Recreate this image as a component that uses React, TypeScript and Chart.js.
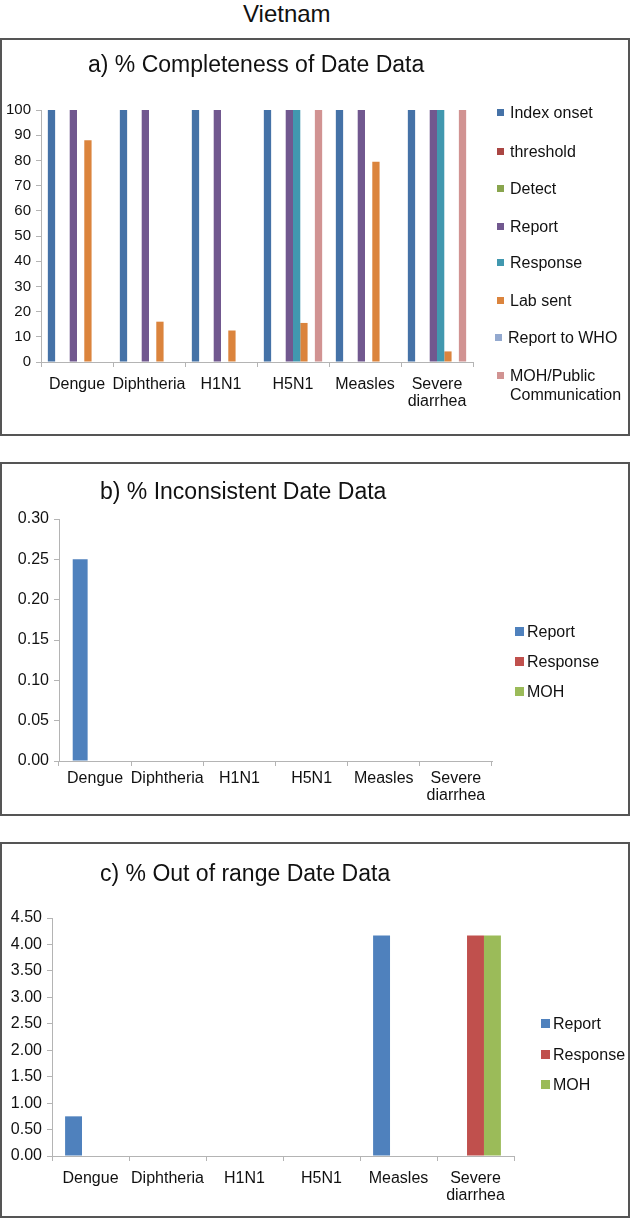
import React, { useEffect, useRef } from "react";
import { Chart, registerables } from "chart.js";

Chart.register(...registerables);

const FONT = '"Liberation Sans", Arial, Helvetica, sans-serif';
const AXIS = "#b4b4b4";
const TEXT = "#111111";

// Categories shared by all three panels
const categories: (string | string[])[] = ["Dengue", "Diphtheria", "H1N1", "H5N1", "Measles", ["Severe", "diarrhea"]];

// Panel a) % Completeness of Date Data
const seriesA = ["Index onset", "threshold", "Detect", "Report", "Response", "Lab sent", "Report to WHO", "MOH/Public\nCommunication"];
const colorsA = ["#4572a7", "#aa4643", "#89a54e", "#71588f", "#4198af", "#db843d", "#93a9cf", "#d19392"];
const indexOnset = [100, 100, 100, 100, 100, 100];
const threshold = [0, 0, 0, 0, 0, 0];
const detect = [0, 0, 0, 0, 0, 0];
const reportA = [100, 100, 100, 100, 100, 100];
const responseA = [0, 0, 0, 100, 0, 100];
const labSent = [88, 16, 12.5, 15.5, 79.5, 4.2];
const reportToWHO = [0, 0, 0, 0, 0, 0];
const mohPublic = [0, 0, 0, 100, 0, 100];
const yMaxA = 100;
const yStepA = 10;

// Panels b) and c) share the series names / colours
const seriesBC = ["Report", "Response", "MOH"];
const colorsBC = ["#4f81bd", "#c0504d", "#9bbb59"];

// Panel b) % Inconsistent Date Data
const reportB = [0.25, 0, 0, 0, 0, 0];
const responseB = [0, 0, 0, 0, 0, 0];
const mohB = [0, 0, 0, 0, 0, 0];
const yMaxB = 0.3;
const yStepB = 0.05;

// Panel c) % Out of range Date Data
const reportC = [0.75, 0, 0, 0, 4.17, 0];
const responseC = [0, 0, 0, 0, 0, 4.17];
const mohC = [0, 0, 0, 0, 0, 4.17];
const yMaxC = 4.5;
const yStepC = 0.5;

type Box = { top: number; bottom: number };
type Plot = { left: number; right: number; top: number; bottom: number };
type LegendSpec = { x: number; textX: number; sq: number; rows: number[]; xs?: number[] };

interface PanelProps {
  box: Box;
  plot: Plot;
  title: string;
  titleLeft: number;
  titleTop: number;
  names: string[];
  colors: string[];
  series: number[][];
  yMax: number;
  yStep: number;
  decimals: number;
  catPct: number;
  xPad: number;
  tickSize: number;
  legend: LegendSpec;
}

function Panel(p: PanelProps) {
  const ref = useRef<HTMLCanvasElement>(null);
  const H = p.box.bottom - p.box.top;
  useEffect(() => {
    const chart = new Chart(ref.current as HTMLCanvasElement, {
      type: "bar",
      data: {
        labels: categories as any,
        datasets: p.series.map((d, i) => ({
          label: p.names[i],
          data: d,
          backgroundColor: p.colors[i],
          borderWidth: 0,
          categoryPercentage: p.catPct,
          barPercentage: 1,
        })),
      },
      options: {
        responsive: false,
        maintainAspectRatio: false,
        animation: false,
        devicePixelRatio: 1,
        layout: {
          padding: { left: 0, right: 630 - p.plot.right, top: p.plot.top - p.box.top, bottom: 0 },
        },
        plugins: {
          legend: { display: false },
          tooltip: { enabled: false },
          title: { display: false },
        },
        scales: {
          x: {
            grid: { display: true, drawOnChartArea: false, drawTicks: true, tickLength: 5, color: AXIS, offset: true },
            border: { display: true, color: AXIS, width: 1 },
            ticks: {
              color: TEXT,
              font: { family: FONT, size: 16, lineHeight: 1.08 },
              padding: p.xPad,
              maxRotation: 0,
              minRotation: 0,
              autoSkip: false,
            },
            afterFit: (s: any) => {
              s.height = p.box.bottom - p.plot.bottom;
            },
          },
          y: {
            min: 0,
            max: p.yMax,
            grid: { display: true, drawOnChartArea: false, drawTicks: true, tickLength: 5, color: AXIS },
            border: { display: true, color: AXIS, width: 1 },
            ticks: {
              stepSize: p.yStep,
              color: TEXT,
              font: { family: FONT, size: p.tickSize },
              padding: 5,
              callback: (v: any) => Number(v).toFixed(p.decimals),
            },
            afterFit: (s: any) => {
              s.width = p.plot.left;
            },
          },
        },
      },
    } as any);
    return () => chart.destroy();
  }, []);

  return (
    <>
      <canvas
        ref={ref}
        width={630}
        height={H}
        style={{ position: "absolute", left: 0, top: p.box.top, width: 630, height: H }}
      />
      <div
        style={{
          position: "absolute",
          left: 0,
          top: p.box.top,
          width: 630,
          height: H,
          boxSizing: "border-box",
          border: "2px solid #555555",
          pointerEvents: "none",
        }}
      />
      <div
        style={{
          position: "absolute",
          left: p.titleLeft,
          top: p.titleTop,
          fontFamily: FONT,
          fontSize: 23,
          lineHeight: "23px",
          color: "#111",
          whiteSpace: "nowrap",
        }}
      >
        {p.title}
      </div>
      {p.names.map((n, i) => (
        <div
          key={n}
          style={{
            position: "absolute",
            left: p.legend.xs ? p.legend.xs[i] : p.legend.x,
            top: p.legend.rows[i] - 10,
            height: 20,
            display: "flex",
            alignItems: "flex-start",
            fontFamily: FONT,
            fontSize: 16,
            lineHeight: "19px",
            color: "#111",
            whiteSpace: "pre-line",
          }}
        >
          <span
            style={{
              display: "inline-block",
              width: p.legend.sq,
              height: p.legend.sq,
              background: p.colors[i],
              marginTop: 10 - p.legend.sq / 2 - 1,
              marginRight: p.legend.textX - p.legend.x - p.legend.sq,
              flex: "none",
            }}
          />
          <span>{n}</span>
        </div>
      ))}
    </>
  );
}

export default function App() {
  return (
    <div
      style={{
        position: "absolute",
        left: 0,
        top: 0,
        width: 630,
        height: 1218,
        background: "#ffffff",
        overflow: "hidden",
      }}
    >
      <div
        style={{
          position: "absolute",
          left: 243,
          top: 2,
          fontFamily: FONT,
          fontSize: 24,
          lineHeight: "24px",
          color: "#111",
          whiteSpace: "nowrap",
        }}
      >
        Vietnam
      </div>
      <Panel
        box={{ top: 38, bottom: 436 }}
        plot={{ left: 41, right: 473, top: 110, bottom: 362 }}
        title="a) % Completeness of Date Data"
        titleLeft={88}
        titleTop={53}
        names={seriesA}
        colors={colorsA}
        series={[indexOnset, threshold, detect, reportA, responseA, labSent, reportToWHO, mohPublic]}
        yMax={yMaxA}
        yStep={yStepA}
        decimals={0}
        catPct={0.81}
        xPad={9}
        tickSize={15}
        legend={{ x: 497, textX: 510, sq: 7, rows: [113, 152, 189, 227, 263, 301, 338, 376], xs: [497, 497, 497, 497, 497, 497, 495, 497] }}
      />
      <Panel
        box={{ top: 462, bottom: 816 }}
        plot={{ left: 59, right: 492, top: 519, bottom: 761 }}
        title="b) % Inconsistent Date Data"
        titleLeft={100}
        titleTop={480}
        names={seriesBC}
        colors={colorsBC}
        series={[reportB, responseB, mohB]}
        yMax={yMaxB}
        yStep={yStepB}
        decimals={2}
        catPct={0.62}
        xPad={4}
        tickSize={16}
        legend={{ x: 515, textX: 527, sq: 9, rows: [632, 662, 692] }}
      />
      <Panel
        box={{ top: 842, bottom: 1218 }}
        plot={{ left: 52, right: 514, top: 918, bottom: 1156 }}
        title="c) % Out of range Date Data"
        titleLeft={100}
        titleTop={862}
        names={seriesBC}
        colors={colorsBC}
        series={[reportC, responseC, mohC]}
        yMax={yMaxC}
        yStep={yStepC}
        decimals={2}
        catPct={0.66}
        xPad={9}
        tickSize={16}
        legend={{ x: 541, textX: 553, sq: 9, rows: [1024, 1055, 1085] }}
      />
    </div>
  );
}
